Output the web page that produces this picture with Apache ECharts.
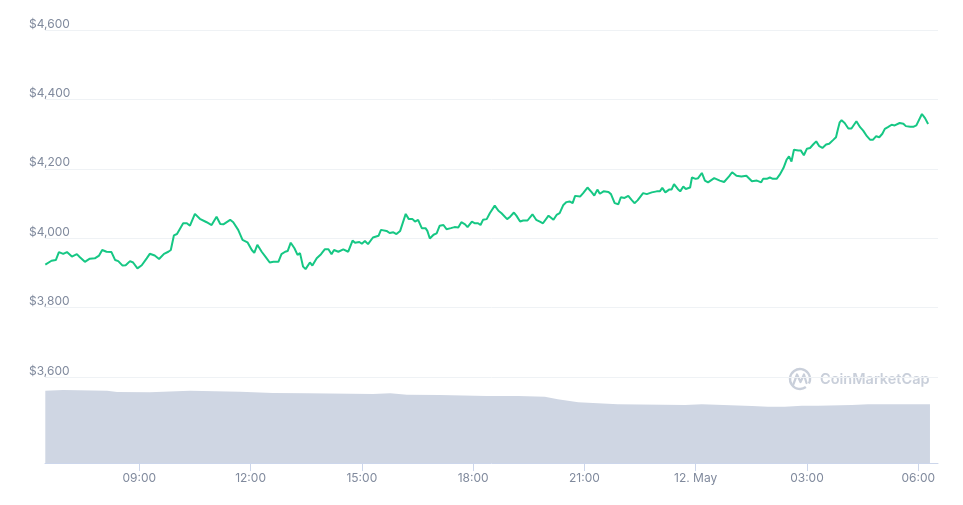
<!DOCTYPE html>
<html><head><meta charset="utf-8">
<script src="https://cdn.jsdelivr.net/npm/echarts@6/dist/echarts.min.js"></script>
<style>html,body{margin:0;padding:0;background:#fff}#c{width:963px;height:505px}</style>
</head><body><div id="c"></div>
<script>
// Time values are minutes after 2021-05-11 00:00
const startDay = 11;
const monthName = 'May';

const priceMinutes = [388,398,405,410,417,423,431,439,444,452,460,468,475,480,487,495,501,506,513,518,525,530,537,544,552,557,565,572,580,587,591,596,601,611,617,622,630,638,649,657,665,671,676,687,692,700,707,715,722,726,731,738,744,751,757,765,770,776,780,785,791,796,800,805,809,816,820,827,834,840,846,851,855,862,870,878,881,885,889,896,900,905,910,918,927,931,940,945,951,956,962,971,976,982,986,991,997,1003,1006,1010,1016,1021,1026,1032,1037,1044,1050,1056,1061,1067,1071,1078,1083,1088,1092,1096,1102,1107,1115,1121,1126,1135,1140,1146,1150,1156,1161,1168,1176,1182,1188,1193,1202,1210,1215,1220,1226,1231,1236,1241,1245,1253,1258,1265,1272,1276,1281,1285,1291,1299,1303,1309,1315,1319,1325,1331,1336,1341,1346,1355,1361,1369,1377,1382,1386,1391,1397,1401,1405,1411,1415,1420,1424,1431,1434,1440,1444,1450,1455,1460,1470,1479,1486,1494,1499,1506,1514,1522,1525,1531,1539,1546,1549,1555,1560,1565,1571,1576,1582,1587,1591,1595,1599,1606,1610,1615,1620,1625,1630,1635,1640,1645,1651,1656,1663,1667,1670,1673,1676,1681,1687,1692,1695,1700,1706,1711,1717,1722,1727,1732,1737,1742,1746,1751,1757,1762,1765,1770,1776,1780,1787,1792,1797,1806,1811,1816];
const prices = [3924,3935,3937,3960,3955,3960,3947,3954,3945,3932,3941,3942,3950,3966,3961,3960,3937,3934,3921,3922,3934,3930,3913,3922,3942,3955,3950,3940,3955,3961,3966,4008,4012,4043,4043,4036,4070,4056,4046,4038,4062,4041,4040,4053,4046,4024,3995,3988,3966,3958,3981,3961,3947,3930,3932,3932,3954,3961,3963,3987,3971,3952,3957,3918,3911,3930,3921,3942,3954,3968,3968,3954,3966,3961,3968,3961,3960,3993,3987,3989,3984,3992,3983,4002,4007,4024,4021,4015,4017,4012,4021,4070,4055,4055,4048,4053,4029,4029,4021,3999,4010,4014,4036,4038,4026,4029,4032,4031,4046,4040,4032,4048,4043,4043,4038,4053,4055,4072,4094,4079,4072,4055,4062,4074,4065,4048,4051,4051,4069,4053,4048,4043,4065,4053,4067,4072,4096,4104,4106,4101,4122,4120,4130,4146,4132,4123,4140,4128,4135,4133,4127,4101,4098,4118,4116,4122,4111,4101,4109,4130,4127,4132,4135,4135,4145,4132,4140,4140,4156,4142,4135,4149,4142,4146,4175,4171,4173,4188,4166,4161,4173,4166,4162,4178,4190,4180,4178,4180,4178,4164,4166,4161,4171,4171,4175,4171,4171,4183,4202,4226,4236,4221,4255,4253,4253,4239,4258,4260,4270,4279,4265,4260,4270,4272,4284,4291,4313,4334,4340,4332,4316,4316,4320,4337,4320,4310,4294,4284,4284,4294,4291,4301,4315,4320,4327,4325,4321,4332,4330,4323,4321,4321,4325,4358,4346,4329];

// 24h volume (billions USD)
const volumeMinutes = [388,417,488,504,557,622,703,756,811,918,946,973,1026,1102,1153,1196,1217,1250,1314,1423,1450,1531,1557,1584,1612,1638,1693,1719,1819];
const volumes = [50.4,50.9,50.4,49.5,49.4,50.4,49.7,48.8,48.6,48.1,48.6,47.7,47.4,46.7,46.7,46.3,44.4,42.3,41.0,40.5,41.0,39.8,39.3,39.3,40.0,40.0,40.5,41.0,41.0];

const xTickMinutes = [540,720,900,1080,1260,1440,1620,1800];
const axisStartMinute = 387.5;
const axisEndMinute = 1832;
const priceMin = 3600, priceMax = 4600, priceStep = 200;

const priceData = priceMinutes.map((m, i) => [m, prices[i]]);
const volumeData = volumeMinutes.map((m, i) => [m, volumes[i]]);

function fmtTime(m) {
  const day = Math.floor(m / 1440);
  const r = Math.round(m - day * 1440);
  const h = Math.floor(r / 60), mi = r % 60;
  if (r === 0) return (startDay + day) + '. ' + monthName;
  return String(h).padStart(2, '0') + ':' + String(mi).padStart(2, '0');
}

const chart = echarts.init(document.getElementById('c'), null, {renderer: 'canvas'});
const grey = '#808a9d';
const ff = 'Inter, "Noto Sans", sans-serif';
chart.setOption({
  animation: false,
  backgroundColor: '#ffffff',
  textStyle: {fontFamily: ff},
  grid: [
    {left: 45, right: 25, top: 30, bottom: 128},
    {left: 45, right: 25, top: 377, bottom: 42}
  ],
  xAxis: [
    {type: 'value', gridIndex: 0, min: axisStartMinute, max: axisEndMinute, show: false},
    {type: 'value', gridIndex: 1, min: axisStartMinute, max: axisEndMinute,
      axisLine: {show: true, onZero: false, lineStyle: {color: '#ccd6eb', width: 1}},
      axisTick: {show: true, customValues: xTickMinutes, length: 8, lineStyle: {color: '#ccd6eb', width: 1}},
      axisLabel: {customValues: xTickMinutes, formatter: fmtTime, color: grey, fontSize: 12, margin: 9, fontFamily: ff,
        showMinLabel: true, showMaxLabel: true},
      splitLine: {show: false}, minorTick: {show: false}
    }
  ],
  yAxis: [
    {type: 'value', gridIndex: 0, min: priceMin, max: priceMax, interval: priceStep, position: 'left',
      axisLine: {show: false}, axisTick: {show: false},
      axisLabel: {align: 'left', margin: 16, verticalAlign: 'bottom', color: grey, fontSize: 12,
        padding: [0, 0, 0, 0], fontFamily: ff,
        formatter: v => '$' + v.toLocaleString('en-US')},
      splitLine: {lineStyle: {color: '#eff2f5', width: 1}}
    },
    {type: 'value', gridIndex: 1, min: 0, max: 60, show: false, splitLine: {show: false}}
  ],
  series: [
    {type: 'line', name: 'Volume', xAxisIndex: 1, yAxisIndex: 1, data: volumeData,
      showSymbol: false, silent: true, lineStyle: {width: 0},
      areaStyle: {color: '#cfd6e3', opacity: 1}, z: 1},
    {type: 'line', name: 'Price', xAxisIndex: 0, yAxisIndex: 0, data: priceData,
      showSymbol: false, lineStyle: {color: '#16c784', width: 2}, z: 3}
  ],
  graphic: [
    {type: 'arc', shape: {cx: 800, cy: 379, r: 10, startAngle: Math.PI * 0.3, endAngle: Math.PI * 2.15},
      style: {stroke: '#c9cfda', lineWidth: 2.4, fill: null}, silent: true},
    {type: 'polyline', shape: {points: [[793.5, 384], [797, 374.5], [800.5, 382], [804, 374.5], [806.5, 383]]},
      style: {stroke: '#c9cfda', lineWidth: 2.2, fill: null, lineJoin: 'round', lineCap: 'round'}, silent: true},
    {type: 'text', x: 820, y: 380, silent: true,
      style: {text: 'CoinMarketCap', fill: '#c9cfda', font: '600 14.5px Inter, "Noto Sans", sans-serif',
        verticalAlign: 'middle', align: 'left'}}
  ]
});
</script>
</body></html>
